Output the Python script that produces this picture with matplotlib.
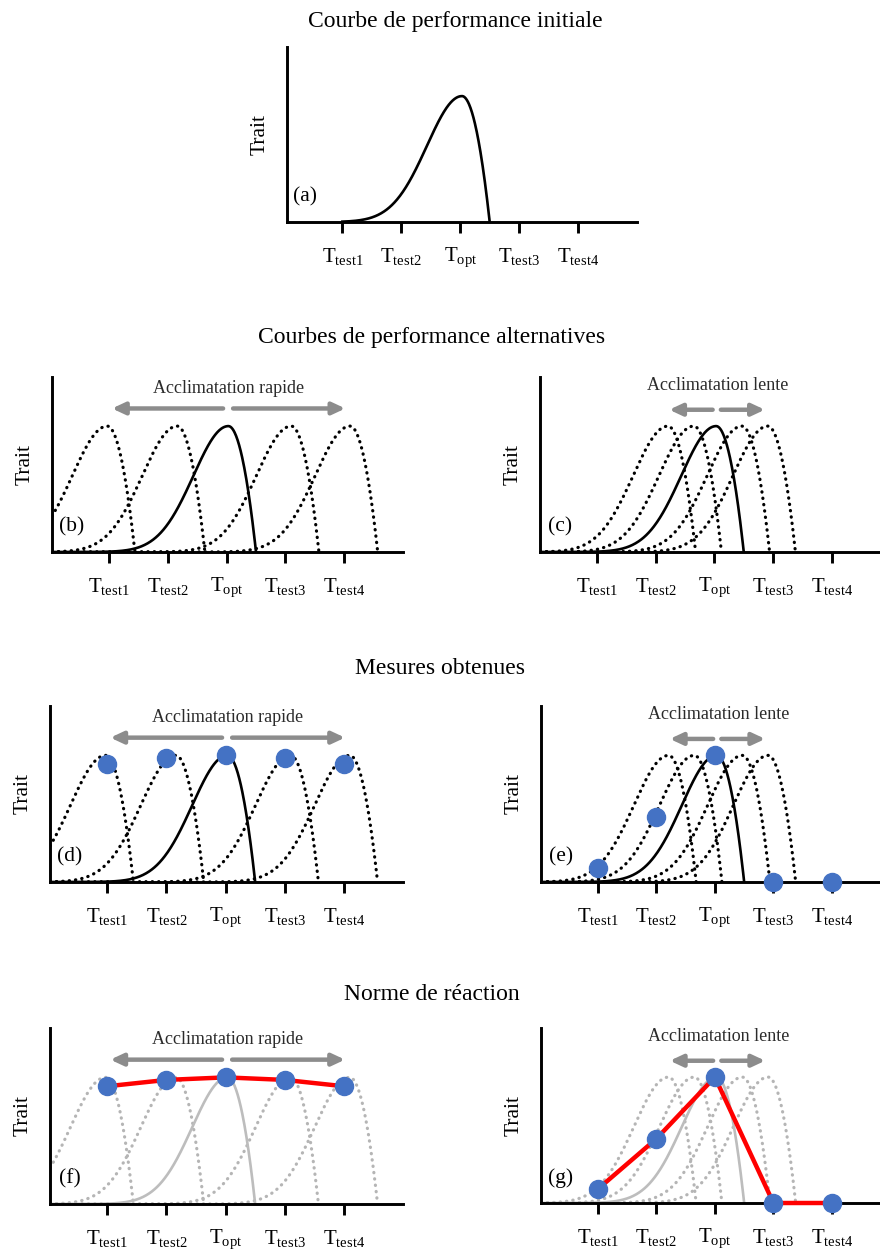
import numpy as np
import matplotlib
matplotlib.use("Agg")
import matplotlib.pyplot as plt

plt.rcParams['font.family'] = ['Liberation Serif', 'DejaVu Serif']
plt.rcParams['mathtext.fontset'] = 'custom'
plt.rcParams['mathtext.rm'] = 'Liberation Serif'
plt.rcParams['mathtext.it'] = 'Liberation Serif:italic'

# --- data ---
TICK_POS = [1, 2, 3, 4, 5]
TICK_LABELS = [r'$\mathrm{T}_{\mathrm{test1}}$', r'$\mathrm{T}_{\mathrm{test2}}$',
               r'$\mathrm{T}_{\mathrm{opt}}$', r'$\mathrm{T}_{\mathrm{test3}}$',
               r'$\mathrm{T}_{\mathrm{test4}}$']

# optimum of the initial curve and its shape (left gaussian width, right drop to CTmax)
TOPT_INIT = 3.03
LARGEUR_GAUCHE = 0.84
LARGEUR_DROITE = 0.47

# optima of the shifted curves (index 2 = initial curve)
PEAKS_RAPIDE = [0.97, 2.16, 3.03, 4.10, 5.10]
PEAKS_LENTE = [2.21, 2.65, 3.03, 3.47, 3.91]

# measurements at each test temperature
MESURE_X = [1, 2, 3, 4, 5]
MESURES_RAPIDE = [0.93, 0.98, 1.0, 0.98, 0.93]
MESURES_LENTE = [0.11, 0.51, 1.0, 0.0, 0.0]

BLEU = '#4472c4'
ROUGE = '#ff0000'
GRIS_FLECHE = '#8c8c8c'
W, H = 880, 1251


def tpc(x, topt):
    """Thermal performance curve: gaussian rise, quadratic drop to zero."""
    y = np.where(x <= topt,
                 np.exp(-((x - topt) / LARGEUR_GAUCHE) ** 2),
                 1 - ((x - topt) / LARGEUR_DROITE) ** 2)
    return y


def make_axes(fig, left, top, bottom, right, xlim):
    ax = fig.add_axes([left / W, 1 - bottom / H, (right - left) / W, (bottom - top) / H])
    ax.set_xlim(*xlim)
    ax.set_ylim(0, 1.39)
    for s in ['top', 'right']:
        ax.spines[s].set_visible(False)
    for s in ['left', 'bottom']:
        ax.spines[s].set_linewidth(2.1)
        ax.spines[s].set_zorder(5)
    ax.set_yticks([])
    ax.set_xticks(TICK_POS)
    ax.set_xticklabels(TICK_LABELS, fontsize=15)
    ax.tick_params(axis='x', length=8, width=2.1, pad=9, direction='out')
    ax.patch.set_alpha(0)
    w_px = right - left
    ax.text(-27 / w_px, 0.5, 'Trait', rotation=90, ha='center', va='center',
            fontsize=15.5, transform=ax.transAxes)
    return ax


def draw_curve(ax, topt, xlim, color='black', dotted=False, lw=1.9):
    end = topt + LARGEUR_DROITE
    x = np.linspace(xlim[0], end, 400)
    y = np.clip(tpc(x, topt), 0, None)
    if dotted:
        ax.plot(x, y, color=color, lw=2.3, linestyle=(0, (0.1, 1.9)),
                dash_capstyle='round', zorder=2)
    else:
        ax.plot(x, y, color=color, lw=lw, zorder=3)


def draw_family(ax, peaks, xlim, faded=False):
    for i, p in enumerate(peaks):
        if i == 2:
            draw_curve(ax, p, xlim, color='#bdbdbd' if faded else 'black')
        else:
            draw_curve(ax, p, xlim, color='#b5b5b5' if faded else 'black', dotted=True)


def draw_arrows(ax, label, left_span, right_span, text_x, text_y, arrow_y):
    props = dict(arrowstyle='-|>,head_length=0.75,head_width=0.35', color=GRIS_FLECHE,
                 lw=3.2, shrinkA=0, shrinkB=0)
    ax.annotate('', xy=(left_span[1], arrow_y), xytext=(left_span[0], arrow_y),
                arrowprops=props)
    ax.annotate('', xy=(right_span[1], arrow_y), xytext=(right_span[0], arrow_y),
                arrowprops=props)
    ax.text(text_x, text_y, label, ha='center', va='center', fontsize=13,
            color='#2b2b2b')


def panel_letter(ax, letter):
    ax.text(0.37, 0.2, letter, ha='center', va='center', fontsize=15.5)


fig = plt.figure(figsize=(W / 100, H / 100), dpi=100)

XL_LEFT = (0.03, 6.0)
XL_RIGHT = (0.03, 5.82)

# titles
fig.text(455 / W, 1 - 22 / H, 'Courbe de performance initiale', ha='center', va='center', fontsize=17)
fig.text(432 / W, 1 - 338 / H, 'Courbes de performance alternatives', ha='center', va='center', fontsize=17)
fig.text(440 / W, 1 - 668 / H, 'Mesures obtenues', ha='center', va='center', fontsize=17)
fig.text(432 / W, 1 - 995 / H, 'Norme de réaction', ha='center', va='center', fontsize=17)

# (a) initial curve
XL_A = (0.06, 6.0)
ax = make_axes(fig, 287, 47, 222, 637, XL_A)
x = np.linspace(1.0, TOPT_INIT + LARGEUR_DROITE, 400)
ax.plot(x, np.clip(tpc(x, TOPT_INIT), 0, None), color='black', lw=1.9)
panel_letter(ax, '(a)')

rapide_args = ('Acclimatation rapide', (2.94, 1.05), (3.11, 5.02), 3.03, 1.30, 1.14)
lente_args = ('Acclimatation lente', (2.97, 2.23), (3.11, 3.86), 3.06, 1.32, 1.13)

# (b) / (c) alternative curves
ax = make_axes(fig, 52, 377, 552, 403, XL_LEFT)
draw_family(ax, PEAKS_RAPIDE, XL_LEFT)
draw_arrows(ax, *rapide_args)
panel_letter(ax, '(b)')

ax = make_axes(fig, 540, 377, 552, 880, XL_RIGHT)
draw_family(ax, PEAKS_LENTE, XL_RIGHT)
draw_arrows(ax, *lente_args)
panel_letter(ax, '(c)')

# (d) / (e) measurements
ax = make_axes(fig, 50, 706, 882, 403, XL_LEFT)
draw_family(ax, PEAKS_RAPIDE, XL_LEFT)
draw_arrows(ax, *rapide_args)
ax.plot(MESURE_X, MESURES_RAPIDE, 'o', color=BLEU, ms=13, zorder=6, clip_on=False)
panel_letter(ax, '(d)')

ax = make_axes(fig, 541, 706, 882, 880, XL_RIGHT)
draw_family(ax, PEAKS_LENTE, XL_RIGHT)
draw_arrows(ax, *lente_args)
ax.plot(MESURE_X, MESURES_LENTE, 'o', color=BLEU, ms=13, zorder=6, clip_on=False)
panel_letter(ax, '(e)')

# (f) / (g) reaction norms
ax = make_axes(fig, 50, 1028, 1204, 403, XL_LEFT)
draw_family(ax, PEAKS_RAPIDE, XL_LEFT, faded=True)
draw_arrows(ax, *rapide_args)
ax.plot(MESURE_X, MESURES_RAPIDE, '-', color=ROUGE, lw=3.2, zorder=6, clip_on=False)
ax.plot(MESURE_X, MESURES_RAPIDE, 'o', color=BLEU, ms=13, zorder=7, clip_on=False)
panel_letter(ax, '(f)')

ax = make_axes(fig, 541, 1028, 1203, 880, XL_RIGHT)
draw_family(ax, PEAKS_LENTE, XL_RIGHT, faded=True)
draw_arrows(ax, *lente_args)
ax.plot(MESURE_X, MESURES_LENTE, '-', color=ROUGE, lw=3.2, zorder=6, clip_on=False)
ax.plot(MESURE_X, MESURES_LENTE, 'o', color=BLEU, ms=13, zorder=7, clip_on=False)
panel_letter(ax, '(g)')

fig.savefig('out.png', dpi=100)
